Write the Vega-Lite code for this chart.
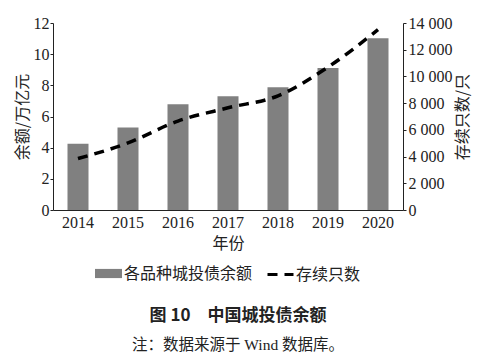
{
  "$schema": "https://vega.github.io/schema/vega-lite/v6.json",
  "width": 350,
  "height": 187,
  "autosize": {"type": "none"},
  "padding": {"left": 53, "top": 23, "right": 84, "bottom": 147},
  "background": "white",
  "data": {
    "values": [
      {"year": "2014", "amount": 4.25, "count": 3850},
      {"year": "2015", "amount": 5.3, "count": 5020},
      {"year": "2016", "amount": 6.78, "count": 6660},
      {"year": "2017", "amount": 7.3, "count": 7650},
      {"year": "2018", "amount": 7.87, "count": 8550},
      {"year": "2019", "amount": 9.12, "count": 10700},
      {"year": "2020", "amount": 11.02, "count": 13500}
    ]
  },
  "title": {
    "text": "图 10\u3000中国城投债余额",
    "subtitle": "注：数据来源于 Wind 数据库。",
    "orient": "bottom",
    "anchor": "middle",
    "frame": "group",
    "offset": 25,
    "dx": 10,
    "font": "Noto Sans CJK SC",
    "fontSize": 17,
    "fontWeight": "bold",
    "color": "#222222",
    "subtitleFont": "Liberation Serif, Noto Sans CJK SC, serif",
    "subtitleFontSize": 15.5,
    "subtitleColor": "#222222",
    "subtitlePadding": 13
  },
  "config": {
    "view": {"stroke": null},
    "axis": {
      "labelFont": "Liberation Serif, Times New Roman, serif",
      "labelFontSize": 16,
      "labelColor": "#222222",
      "titleFont": "Noto Sans CJK SC",
      "titleFontSize": 16,
      "titleFontWeight": "normal",
      "titleColor": "#222222",
      "domainColor": "#222222",
      "tickColor": "#222222",
      "grid": false
    },
    "legend": {
      "labelFont": "Noto Sans CJK SC",
      "labelFontSize": 16,
      "labelColor": "#222222"
    }
  },
  "encoding": {
    "x": {
      "field": "year",
      "type": "ordinal",
      "scale": {"paddingInner": 0.58, "paddingOuter": 0.29},
      "axis": {
        "title": "年份",
        "labelAngle": 0,
        "ticks": false,
        "labelPadding": 4,
        "titlePadding": 5
      }
    }
  },
  "layer": [
    {
      "mark": {"type": "bar", "color": "#808080"},
      "encoding": {
        "y": {
          "field": "amount",
          "type": "quantitative",
          "scale": {"domain": [0, 12]},
          "axis": {
            "title": "余额/万亿元",
            "values": [0, 2, 4, 6, 8, 10, 12],
            "tickSize": 3,
            "labelPadding": 1,
            "titlePadding": 3
          }
        },
        "color": {
          "datum": "各品种城投债余额",
          "type": "nominal",
          "scale": {"range": ["#808080"]},
          "legend": {
            "title": null,
            "orient": "none",
            "legendX": 42,
            "legendY": 237,
            "symbolType": "M-1,-0.34H1V0.34H-1Z",
            "symbolSize": 729,
            "symbolStrokeWidth": 0,
            "labelOffset": 2
          }
        }
      }
    },
    {
      "mark": {
        "type": "line",
        "color": "black",
        "strokeWidth": 3.5,
        "interpolate": "monotone"
      },
      "encoding": {
        "x": {"field": "year", "type": "ordinal", "bandPosition": 0.5},
        "y": {
          "field": "count",
          "type": "quantitative",
          "scale": {"domain": [0, 14000]},
          "axis": {
            "orient": "right",
            "title": "存续只数/只",
            "titleAngle": -90,
            "titleBaseline": "top",
            "values": [0, 2000, 4000, 6000, 8000, 10000, 12000, 14000],
            "labelExpr": "replace(format(datum.value, ','), ',', ' ')",
            "tickSize": 3,
            "labelPadding": 2,
            "titlePadding": 2
          }
        },
        "strokeDash": {
          "datum": "存续只数",
          "type": "nominal",
          "scale": {"range": [[10, 7]]},
          "legend": {
            "title": null,
            "orient": "none",
            "legendX": 213,
            "legendY": 237,
            "symbolType": "stroke",
            "symbolSize": 676,
            "symbolStrokeColor": "black",
            "symbolStrokeWidth": 3,
            "labelOffset": 1
          }
        }
      }
    }
  ],
  "resolve": {"scale": {"y": "independent"}}
}
